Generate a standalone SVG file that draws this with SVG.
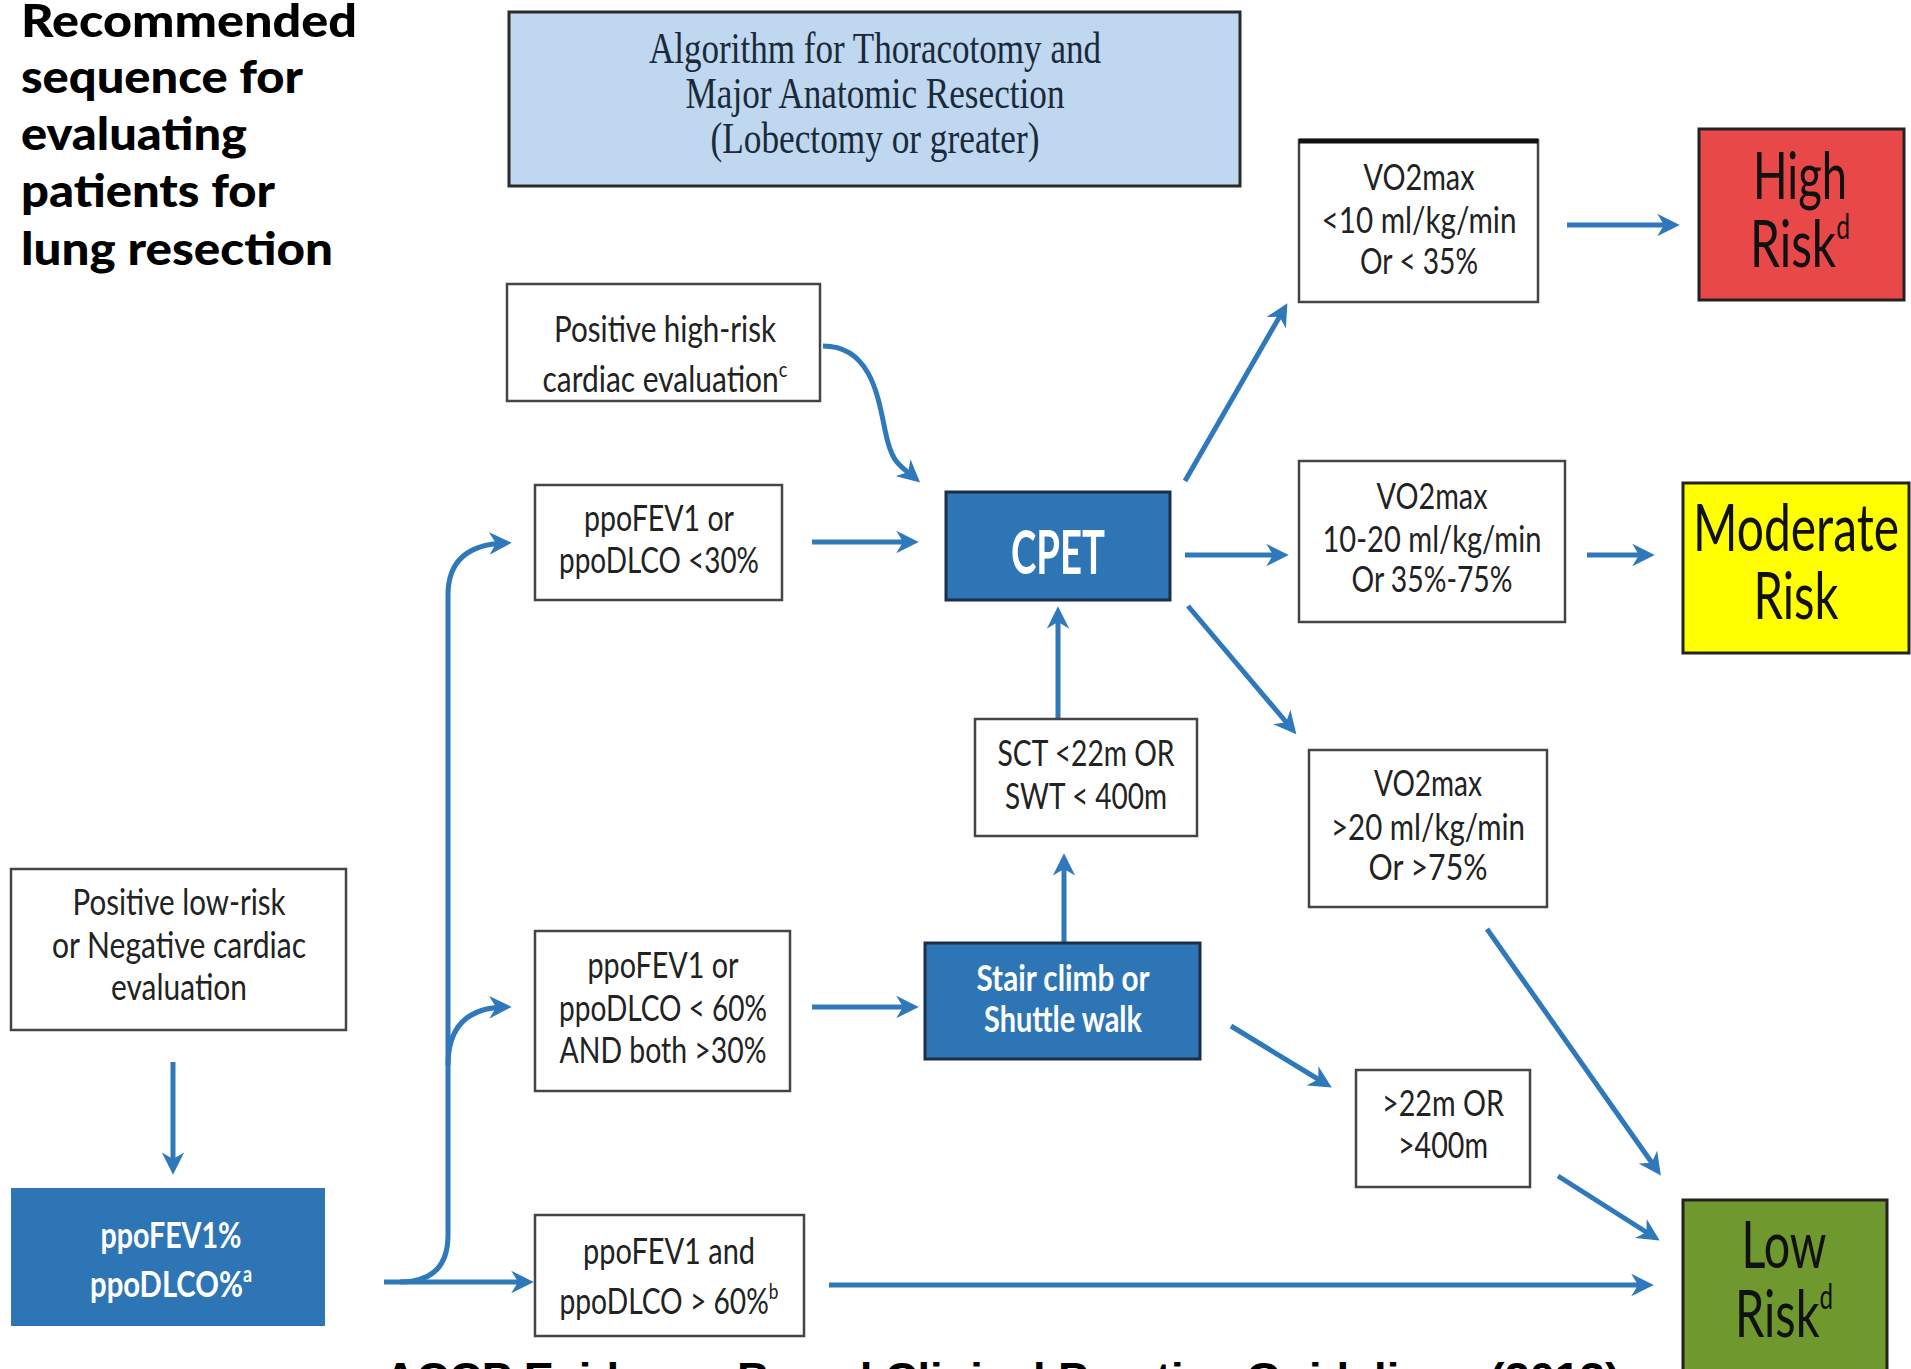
<svg xmlns="http://www.w3.org/2000/svg" width="1911" height="1369" viewBox="0 0 1911 1369">
<defs>
<style>
.box{fill:#ffffff;stroke:#454545;stroke-width:2.5}
.blue{fill:#2e75b6;stroke:#1d2f48;stroke-width:3}
.t{font-family:Lato,"Open Sans","Liberation Sans",sans-serif;font-size:36px;fill:#222;text-anchor:middle}
.w{fill:#ffffff;font-weight:bold}
.big{font-size:66px;fill:#111}
.cpet{font-size:62px}
.sup{font-size:22px}
.bsup{font-size:34px}
.ttl{font-family:Lato,"Liberation Sans",sans-serif;font-weight:900;font-size:46px;fill:#000}
.serif{font-family:"Liberation Serif","Times New Roman",serif;font-size:44px;fill:#1a2a3a;text-anchor:middle}
.conn{stroke:#2f78ba;stroke-width:5;fill:none;marker-end:url(#ah)}
</style>
<marker id="ah" viewBox="0 0 10 10" refX="7" refY="5" markerWidth="4.5" markerHeight="4.5" orient="auto" markerUnits="strokeWidth">
<path d="M0,0 L10,5 L0,10 L3,5 z" fill="#2f78ba"/>
</marker>
</defs>
<rect width="1911" height="1369" fill="#ffffff"/>

<g id="title">
<text class="ttl" x="21" y="37" textLength="336" lengthAdjust="spacingAndGlyphs">Recommended</text>
<text class="ttl" x="21" y="93" textLength="282" lengthAdjust="spacingAndGlyphs">sequence for</text>
<text class="ttl" x="21" y="150" textLength="226" lengthAdjust="spacingAndGlyphs">evaluating</text>
<text class="ttl" x="21" y="207" textLength="254" lengthAdjust="spacingAndGlyphs">patients for</text>
<text class="ttl" x="21" y="265" textLength="312" lengthAdjust="spacingAndGlyphs">lung resection</text>
</g>

<g id="connectors">
<path class="conn" d="M173 1062 V1168"/>
<path class="conn" d="M384 1282 H527"/>
<path class="conn" d="M400 1282 Q448 1282 448 1235 V595 Q448 545 505 543"/>
<path class="conn" d="M448 1065 Q448 1008 505 1007"/>
<path class="conn" d="M812 542 H912"/>
<path class="conn" d="M823 346 C870 346 878 395 885 430 S900 465 915 478"/>
<path class="conn" d="M1058 719 V613"/>
<path class="conn" d="M1064 943 V860"/>
<path class="conn" d="M812 1007 H912"/>
<path class="conn" d="M1231 1026 L1326 1084"/>
<path class="conn" d="M1558 1176 L1654 1237"/>
<path class="conn" d="M1487 929 L1657 1170"/>
<path class="conn" d="M829 1285 H1647"/>
<path class="conn" d="M1185 481 L1284 309"/>
<path class="conn" d="M1185 555 H1282"/>
<path class="conn" d="M1188 606 L1292 729"/>
<path class="conn" d="M1567 225 H1673"/>
<path class="conn" d="M1587 555 H1648"/>
</g>

<g id="algorithm">
<rect x="509" y="12" width="731" height="174" fill="#bfd7ef" stroke="#2a2a2a" stroke-width="3"/>
<text class="serif" x="875" y="63" textLength="452" lengthAdjust="spacingAndGlyphs">Algorithm for Thoracotomy and</text>
<text class="serif" x="875" y="108" textLength="379" lengthAdjust="spacingAndGlyphs">Major Anatomic Resection</text>
<text class="serif" x="875" y="153" textLength="329" lengthAdjust="spacingAndGlyphs">(Lobectomy or greater)</text>
</g>

<g id="high-risk-cardiac">
<rect class="box" x="507" y="284" width="313" height="117"/>
<text class="t" x="665" y="342" textLength="222" lengthAdjust="spacingAndGlyphs">Positive high-risk</text>
<text class="t" x="665" y="392" textLength="245" lengthAdjust="spacingAndGlyphs">cardiac evaluation<tspan class="sup" dy="-15">c</tspan></text>
</g>

<g id="ppo-lt30">
<rect class="box" x="535" y="485" width="247" height="115"/>
<text class="t" x="659" y="531" textLength="150" lengthAdjust="spacingAndGlyphs">ppoFEV1 or</text>
<text class="t" x="659" y="573" textLength="200" lengthAdjust="spacingAndGlyphs">ppoDLCO &lt;30%</text>
</g>

<g id="cpet">
<rect class="blue" x="946" y="492" width="224" height="108"/>
<text class="t w cpet" x="1058" y="574" textLength="94" lengthAdjust="spacingAndGlyphs">CPET</text>
</g>

<g id="vo2-lt10">
<rect class="box" x="1299" y="140" width="239" height="162"/>
<line x1="1299" y1="141" x2="1538" y2="141" stroke="#111" stroke-width="5"/>
<text class="t" x="1419" y="190" textLength="111" lengthAdjust="spacingAndGlyphs">VO2max</text>
<text class="t" x="1419" y="233" textLength="195" lengthAdjust="spacingAndGlyphs">&lt;10 ml/kg/min</text>
<text class="t" x="1419" y="274" textLength="118" lengthAdjust="spacingAndGlyphs">Or &lt; 35%</text>
</g>

<g id="high-risk">
<rect x="1699" y="129" width="205" height="171" fill="#e84848" stroke="#222" stroke-width="3"/>
<text class="t big" x="1800" y="199" textLength="94" lengthAdjust="spacingAndGlyphs">High</text>
<text class="t big" x="1800" y="267" textLength="100" lengthAdjust="spacingAndGlyphs">Risk<tspan class="bsup" dy="-28">d</tspan></text>
</g>

<g id="vo2-10-20">
<rect class="box" x="1299" y="461" width="266" height="161"/>
<text class="t" x="1432" y="509" textLength="111" lengthAdjust="spacingAndGlyphs">VO2max</text>
<text class="t" x="1432" y="552" textLength="219" lengthAdjust="spacingAndGlyphs">10-20 ml/kg/min</text>
<text class="t" x="1432" y="592" textLength="161" lengthAdjust="spacingAndGlyphs">Or 35%-75%</text>
</g>

<g id="moderate-risk">
<rect x="1683" y="483" width="226" height="170" fill="#ffff00" stroke="#222" stroke-width="3"/>
<text class="t big" x="1796" y="551" textLength="206" lengthAdjust="spacingAndGlyphs">Moderate</text>
<text class="t big" x="1796" y="619" textLength="85" lengthAdjust="spacingAndGlyphs">Risk</text>
</g>

<g id="vo2-gt20">
<rect class="box" x="1309" y="750" width="238" height="157"/>
<text class="t" x="1428" y="796" textLength="108" lengthAdjust="spacingAndGlyphs">VO2max</text>
<text class="t" x="1428" y="840" textLength="194" lengthAdjust="spacingAndGlyphs">&gt;20 ml/kg/min</text>
<text class="t" x="1428" y="880" textLength="119" lengthAdjust="spacingAndGlyphs">Or  &gt;75%</text>
</g>

<g id="sct">
<rect class="box" x="975" y="719" width="222" height="117"/>
<text class="t" x="1086" y="766" textLength="177" lengthAdjust="spacingAndGlyphs">SCT &lt;22m OR</text>
<text class="t" x="1086" y="809" textLength="162" lengthAdjust="spacingAndGlyphs">SWT &lt; 400m</text>
</g>

<g id="stair-climb">
<rect class="blue" x="925" y="943" width="275" height="116"/>
<text class="t w" x="1063" y="991" textLength="173" lengthAdjust="spacingAndGlyphs">Stair climb or</text>
<text class="t w" x="1063" y="1032" textLength="158" lengthAdjust="spacingAndGlyphs">Shuttle walk</text>
</g>

<g id="gt22m">
<rect class="box" x="1356" y="1070" width="174" height="117"/>
<text class="t" x="1443" y="1116" textLength="122" lengthAdjust="spacingAndGlyphs">&gt;22m OR</text>
<text class="t" x="1443" y="1158" textLength="90" lengthAdjust="spacingAndGlyphs">&gt;400m</text>
</g>

<g id="low-risk">
<rect x="1683" y="1200" width="204" height="180" fill="#6f982e" stroke="#222" stroke-width="3"/>
<text class="t big" x="1784" y="1268" textLength="85" lengthAdjust="spacingAndGlyphs">Low</text>
<text class="t big" x="1784" y="1337" textLength="98" lengthAdjust="spacingAndGlyphs">Risk<tspan class="bsup" dy="-28">d</tspan></text>
</g>

<g id="low-risk-cardiac">
<rect class="box" x="11" y="869" width="335" height="161"/>
<text class="t" x="179" y="915" textLength="213" lengthAdjust="spacingAndGlyphs">Positive low-risk</text>
<text class="t" x="179" y="958" textLength="254" lengthAdjust="spacingAndGlyphs">or Negative cardiac</text>
<text class="t" x="179" y="1000" textLength="136" lengthAdjust="spacingAndGlyphs">evaluation</text>
</g>

<g id="ppo-percent">
<rect x="11" y="1188" width="314" height="138" fill="#2e75b6"/>
<text class="t w" x="171" y="1248" textLength="141" lengthAdjust="spacingAndGlyphs">ppoFEV1%</text>
<text class="t w" x="171" y="1297" textLength="162" lengthAdjust="spacingAndGlyphs">ppoDLCO%<tspan class="sup" dy="-15">a</tspan></text>
</g>

<g id="ppo-lt60">
<rect class="box" x="535" y="931" width="255" height="160"/>
<text class="t" x="663" y="978" textLength="151" lengthAdjust="spacingAndGlyphs">ppoFEV1 or</text>
<text class="t" x="663" y="1021" textLength="208" lengthAdjust="spacingAndGlyphs">ppoDLCO &lt; 60%</text>
<text class="t" x="663" y="1063" textLength="207" lengthAdjust="spacingAndGlyphs">AND both &gt;30%</text>
</g>

<g id="ppo-gt60">
<rect class="box" x="535" y="1215" width="269" height="121"/>
<text class="t" x="669" y="1264" textLength="172" lengthAdjust="spacingAndGlyphs">ppoFEV1 and</text>
<text class="t" x="669" y="1314" textLength="219" lengthAdjust="spacingAndGlyphs">ppoDLCO &gt; 60%<tspan class="sup" dy="-15">b</tspan></text>
</g>

<g id="caption">
<text x="384" y="1394" font-family="'Liberation Sans',Arial,sans-serif" font-weight="bold" font-size="44" fill="#000" textLength="1236" lengthAdjust="spacingAndGlyphs">ACCP Evidence-Based Clinical Practice Guidelines (2013)</text>
</g>
</svg>
